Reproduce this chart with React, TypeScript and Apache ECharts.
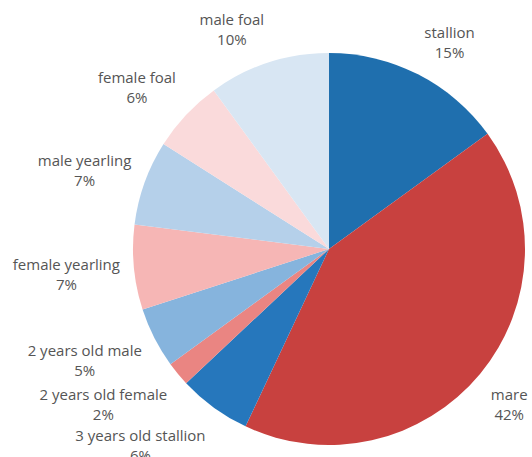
import React, { useEffect, useRef } from "react";
import * as echarts from "echarts";

const categories = [
  "stallion",
  "mare",
  "3 years old stallion",
  "2 years old female",
  "2 years old male",
  "female yearling",
  "male yearling",
  "female foal",
  "male foal",
];
const shares = [15, 42, 6, 2, 5, 7, 7, 6, 10];
const sliceColors = [
  "#1f6fae",
  "#c8413f",
  "#2677bc",
  "#ea8582",
  "#86b4dd",
  "#f6b6b5",
  "#b5d0ea",
  "#fadadb",
  "#d8e6f3",
];

const CX = 329;
const CY = 249;
const R = 196;
const GAP = 14;

const clamp = (v: number, lo: number, hi: number) => Math.max(lo, Math.min(hi, v));

export default function App() {
  const ref = useRef<HTMLDivElement>(null);
  useEffect(() => {
    if (!ref.current) return;
    const chart = echarts.init(ref.current, undefined, { renderer: "svg" });
    const total = shares.reduce((a, b) => a + b, 0);
    const midAngles: number[] = [];
    let cum = 0;
    shares.forEach((v) => {
      midAngles.push(((cum + v / 2) / total) * Math.PI * 2);
      cum += v;
    });
    chart.setOption({
      animation: false,
      backgroundColor: "#ffffff",
      series: [
        {
          type: "pie",
          center: [CX, CY],
          radius: R,
          startAngle: 90,
          clockwise: true,
          avoidLabelOverlap: false,
          data: categories.map((name, i) => ({
            name,
            value: shares[i],
            itemStyle: { color: sliceColors[i] },
          })),
          label: {
            show: true,
            position: "outside",
            formatter: (p: any) => `${p.name}\n${p.value}%`,
            fontFamily: "Open Sans",
            fontSize: 15,
            lineHeight: 20,
            color: "#555555",
          },
          labelLine: { show: false },
          emphasis: { disabled: true },
          labelLayout: (params: any) => {
            const a = midAngles[params.dataIndex];
            const dx = Math.sin(a);
            const dy = -Math.cos(a);
            const w = params.labelRect.width;
            const h = params.labelRect.height;
            const px = CX + (R + GAP) * dx;
            const py = CY + (R + GAP) * dy;
            return {
              x: px + (w / 2) * clamp(4 * dx, -1, 1),
              y: py + (h / 2) * clamp(1.5 * dy + 0.1, -1, 1.3),
              align: "center",
              verticalAlign: "middle",
            };
          },
        },
      ],
    });
    return () => chart.dispose();
  }, []);
  return (
    <div
      ref={ref}
      style={{ position: "fixed", left: 0, top: 0, width: 532, height: 457 }}
    />
  );
}
